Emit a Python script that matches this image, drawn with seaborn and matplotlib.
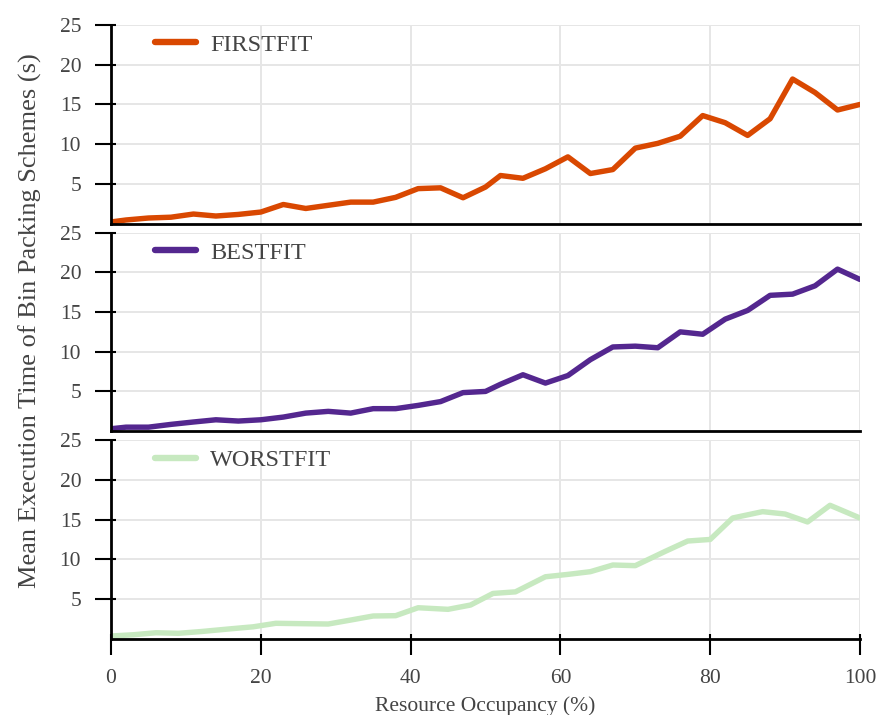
import matplotlib
matplotlib.use("Agg")
import matplotlib.pyplot as plt
import seaborn as sns
import pandas as pd

# Resource occupancy (%) sampled for each scheme
occ_first = [0, 2, 5, 8, 11, 14, 17, 20, 23, 26, 29, 32, 35, 38, 41, 44, 47, 50,
             52, 55, 58, 61, 64, 67, 70, 73, 76, 79, 82, 85, 88, 91, 94, 97, 100]
occ_best = occ_first
occ_worst = [0, 3, 6, 9, 12, 16, 19, 22, 25, 29, 32, 35, 38, 41, 45, 48, 51, 54,
             58, 61, 64, 67, 70, 74, 77, 80, 83, 87, 90, 93, 96, 100]

# Mean execution time (s)
firstfit = [0.2, 0.45, 0.7, 0.8, 1.2, 0.95, 1.15, 1.45, 2.4, 1.9, 2.3, 2.7, 2.7, 3.3,
            4.4, 4.5, 3.25, 4.6, 6.05, 5.7, 6.9, 8.4, 6.3, 6.8, 9.5, 10.1, 11.0,
            13.6, 12.7, 11.1, 13.2, 18.2, 16.5, 14.3, 15.0]
bestfit = [0.3, 0.5, 0.5, 0.85, 1.15, 1.43, 1.27, 1.43, 1.77, 2.27, 2.49, 2.27, 2.83,
           2.83, 3.24, 3.72, 4.85, 5.0, 5.9, 7.1, 6.05, 7.0, 9.0, 10.6, 10.7, 10.5,
           12.5, 12.2, 14.1, 15.2, 17.1, 17.25, 18.3, 20.4, 19.1]
worstfit = [0.34, 0.5, 0.75, 0.68, 0.9, 1.25, 1.5, 1.94, 1.9, 1.85, 2.35, 2.86, 2.9,
            3.9, 3.7, 4.24, 5.7, 5.9, 7.8, 8.1, 8.44, 9.28, 9.2, 11.0, 12.3, 12.5,
            15.2, 16.0, 15.7, 14.7, 16.8, 15.2]

schemes = ["FIRSTFIT", "BESTFIT", "WORSTFIT"]
colors = ["#d94801", "#54278f", "#c7e9c0"]
x_ticks = [0, 20, 40, 60, 80, 100]
y_ticks = [5, 10, 15, 20, 25]

frames = [
    pd.DataFrame({"occupancy": occ_first, "time": firstfit}),
    pd.DataFrame({"occupancy": occ_best, "time": bestfit}),
    pd.DataFrame({"occupancy": occ_worst, "time": worstfit}),
]

sns.set_theme(style="whitegrid")
plt.rcParams["font.family"] = ["Liberation Serif", "DejaVu Serif"]
text_color = "#444444"

fig, axes = plt.subplots(3, 1, sharex=True, figsize=(8.77, 7.15), dpi=100)
fig.subplots_adjust(left=0.1266, right=0.9806, top=0.965, bottom=0.1067,
                    hspace=0.0455)

for i, (ax, df, name, col) in enumerate(zip(axes, frames, schemes, colors)):
    sns.lineplot(data=df, x="occupancy", y="time", ax=ax, color=col,
                 linewidth=3.9, label=name)
    ax.set_xlim(0, 100)
    ax.set_ylim(0, 25)
    ax.set_xticks(x_ticks)
    ax.set_yticks(y_ticks)
    ax.set_xticks(x_ticks, minor=True)
    ax.set_yticks(y_ticks, minor=True)
    ax.xaxis.remove_overlapping_locs = False
    ax.yaxis.remove_overlapping_locs = False
    ax.set_facecolor("white")
    ax.grid(True, which="major", color="#e6e6e6", linewidth=1.4)
    ax.grid(False, which="minor")
    ax.set_axisbelow(True)
    for side in ("top", "right"):
        ax.spines[side].set_visible(False)
    for side in ("left", "bottom"):
        ax.spines[side].set_visible(True)
        ax.spines[side].set_color("black")
        ax.spines[side].set_linewidth(2.0)
        ax.spines[side].set_zorder(3)
    ax.tick_params(axis="y", which="major", direction="out", length=11.5,
                   width=1.5, color="black", pad=10, labelsize=15.5,
                   labelcolor=text_color, left=True)
    ax.tick_params(axis="y", which="minor", direction="in", length=3.6,
                   width=1.5, color="black", left=True)
    if i < 2:
        ax.tick_params(axis="x", which="both", bottom=False, labelbottom=False)
    else:
        ax.tick_params(axis="x", which="major", direction="out", length=11.5,
                       width=1.5, color="black", pad=10, labelsize=15.5,
                       labelcolor=text_color, bottom=True)
        ax.tick_params(axis="x", which="minor", direction="in", length=3.6,
                       width=1.5, color="black", bottom=True)
    ax.set_ylabel("")
    ax.set_xlabel("")
    leg = ax.legend(loc="upper left", bbox_to_anchor=(0.0587, 0.955),
                    frameon=False, fontsize=17.5, handlelength=1.69,
                    handletextpad=0.58, borderaxespad=0, borderpad=0)
    for t in leg.get_texts():
        t.set_color(text_color)
    for ln in leg.get_lines():
        ln.set_linewidth(4.6)

axes[2].set_xlabel("Resource Occupancy (%)", fontsize=15.5, color=text_color,
                   labelpad=6)
fig.text(30 / 877, 1 - 321 / 715,
         "Mean Execution Time of Bin Packing Schemes (s)",
         rotation=90, ha="center", va="center", fontsize=19, color=text_color)

fig.savefig("out.png", dpi=100)
